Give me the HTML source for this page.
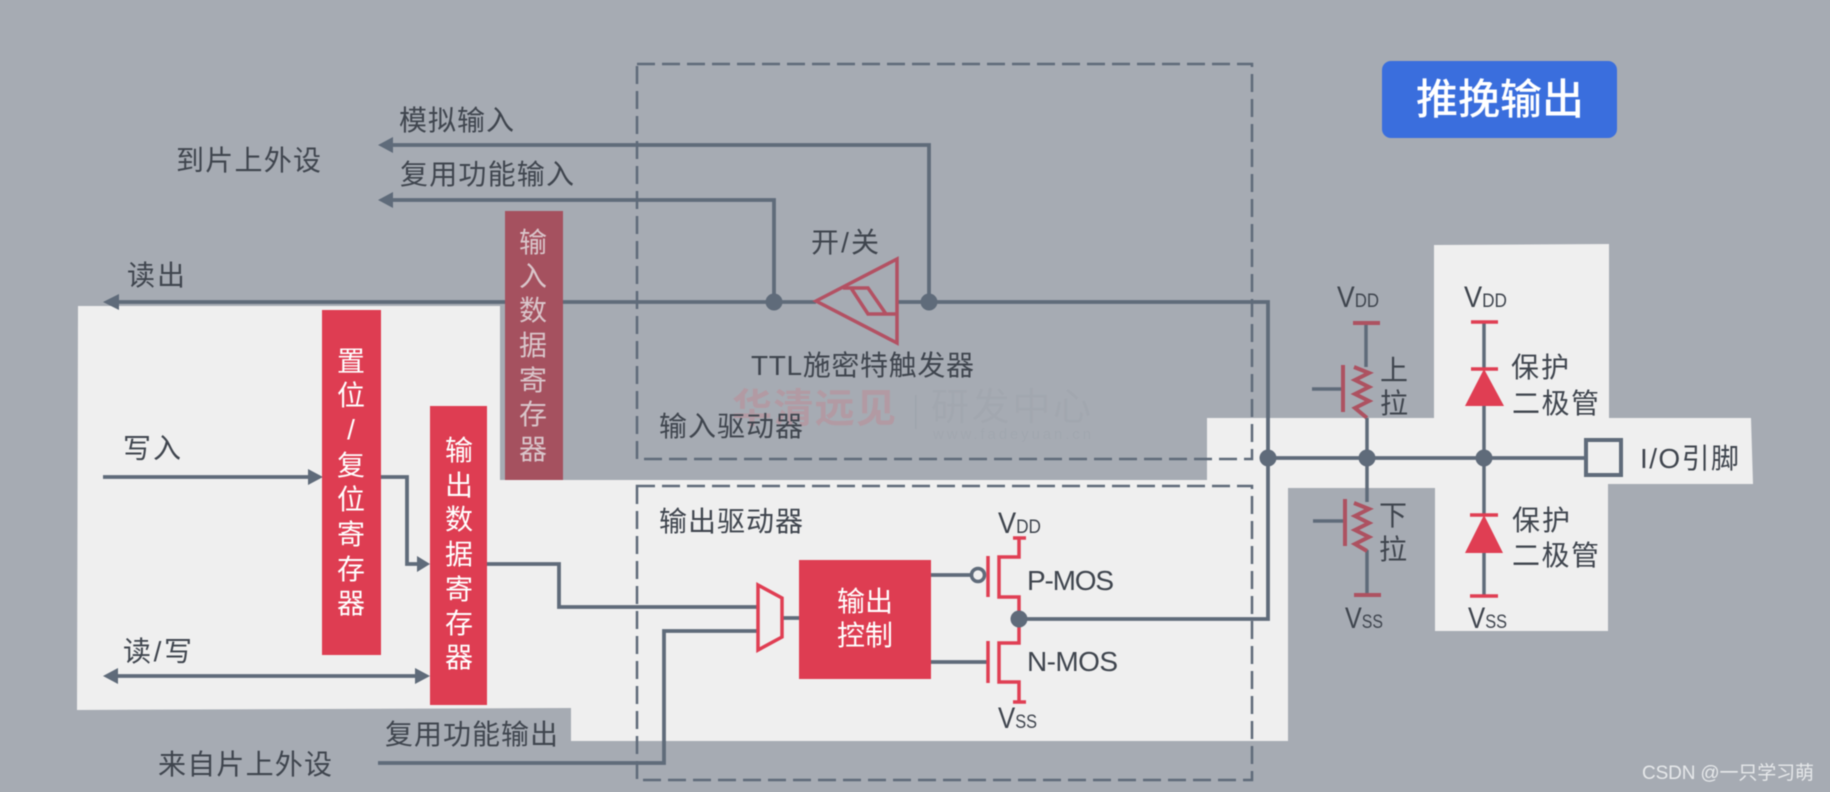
<!DOCTYPE html>
<html><head><meta charset="utf-8"><style>
html,body{margin:0;padding:0;background:#a6abb3;width:1830px;height:792px;overflow:hidden}
svg{display:block;filter:blur(.5px)}
text{font-family:"Liberation Sans","Noto Sans CJK SC",sans-serif;fill:#3f454e;font-size:28px}
.l{fill:none;stroke:#5f6b7a;stroke-width:3.8}
.t{fill:none;stroke:#5f6b7a;stroke-width:3.5}
.a{fill:#5f6b7a}
.d{fill:none;stroke:#5f6b7a;stroke-width:2.5;stroke-dasharray:18 7}
.r{fill:none;stroke:#e03e53;stroke-width:3.5}
.dr{fill:none;stroke:#ad5261;stroke-width:4}
.w{fill:#fff;text-anchor:middle}
.w2{fill:#d9c5ca;text-anchor:middle}
.sub{font-size:19px}
.v{font-size:30px}
</style></head><body>
<svg width="1830" height="792" viewBox="0 0 1830 792" xmlns="http://www.w3.org/2000/svg">
<rect width="1830" height="792" fill="#a6abb3"/>
<!-- light panel -->
<path d="M78 306H500V480H1207V418H1434V245L1609 244V418H1751L1753 484H1608V631H1435V488H1288V741H571V708L77 710Z" fill="#efefef"/>
<!-- watermark -->
<text x="732" y="422" textLength="164" style="font-size:40px;font-weight:700;fill:#b39aa3" opacity=".95">华清远见</text>
<rect x="915" y="395" width="1.5" height="34" fill="#9fa5ad"/>
<text x="931" y="420" textLength="160" style="font-size:38px;fill:#9fa5ad" opacity=".55">研发中心</text>
<text x="933" y="439" textLength="158" style="font-size:15px;fill:#9fa5ad" opacity=".6">www.fadeyuan.cn</text>
<!-- dashed boxes -->
<rect class="d" x="637" y="64" width="615" height="395"/>
<rect class="d" x="637" y="486" width="615" height="294"/>
<!-- connectors -->
<path class="l" d="M388 145H929V302"/>
<path class="l" d="M388 200H774V302"/>
<path class="a" d="M378 145L393 137V153Z"/>
<path class="a" d="M378 200L393 192V208Z"/>
<path class="l" d="M112 302H816"/>
<path class="a" d="M103 302L119 294V310Z"/>
<path class="l" d="M897 302H1268V619H1019"/>
<path class="l" d="M1268 458H1586"/>
<path class="l" d="M103 477H315"/>
<path class="a" d="M323 477L308 469V485Z"/>
<path class="l" d="M381 477H407V564H422"/>
<path class="a" d="M430 564L417 556V572Z"/>
<path class="l" d="M112 676H422"/>
<path class="a" d="M103 676L118 668V684Z"/>
<path class="a" d="M430 676L415 668V684Z"/>
<path class="l" d="M487 564H559V607H758"/>
<path class="l" d="M378 763H664V631H758"/>
<path class="l" d="M782 618H799"/>
<path class="l" d="M931 575H971"/>
<path class="l" d="M931 662H988"/>
<!-- Schmitt trigger -->
<path d="M816 301L897 259V343Z" fill="#a6abb3" stroke="#b35163" stroke-width="3.5"/>
<path d="M843 288H868L886 314M851 288L868 314H897" fill="none" stroke="#b35163" stroke-width="3.5"/>
<circle class="a" cx="774" cy="302" r="8.5"/>
<circle class="a" cx="929" cy="302" r="8.5"/>
<circle class="a" cx="1268" cy="458" r="8.5"/>
<circle class="a" cx="1367" cy="458" r="8.5"/>
<circle class="a" cx="1484" cy="458" r="8.5"/>
<!-- IO pin -->
<rect x="1586" y="440" width="35" height="35" fill="#efefef" stroke="#5f6b7a" stroke-width="4"/>
<!-- pull up -->
<path class="t" d="M1366 323V367"/>
<path class="dr" d="M1353 323H1380"/>
<path class="t" d="M1312 389H1343"/>
<path class="dr" d="M1343 365V412"/>
<path class="dr" d="M1354 367L1369 373L1355 380L1369 387L1355 394L1369 401L1355 408L1367 418"/>
<path class="t" d="M1367 418V502"/>
<path class="t" d="M1367 550V595"/>
<path class="t" d="M1313 521H1345"/>
<path class="dr" d="M1345 499V546"/>
<path class="dr" d="M1354 503L1369 509L1355 516L1369 523L1355 530L1369 537L1355 544L1367 551"/>
<path class="dr" d="M1354 595H1381"/>
<!-- diodes -->
<path class="t" d="M1484 322V369M1484 406V515M1484 553V596"/>
<path class="r" d="M1471 322H1498M1471 369H1498M1470 515H1498M1470 596H1498"/>
<path d="M1484 369L1465 406H1504Z" fill="#e03e53"/>
<path d="M1484 515L1465 553H1503Z" fill="#e03e53"/>
<!-- MOS -->
<path class="r" d="M1013 538H1026M1019 538V557H999V597H1019V643H999V682H1019V702M1013 702H1026M988 556V597M988 641V683"/>
<circle cx="978" cy="575" r="6.5" fill="#efefef" stroke="#5f6b7a" stroke-width="3.5"/>
<circle class="a" cx="1019" cy="619" r="8.5"/>
<!-- mux -->
<path d="M758 585L782 598V637L758 650Z" fill="#efefef" stroke="#e03e53" stroke-width="3.5"/>
<!-- boxes -->
<rect x="505" y="211" width="58" height="269" fill="#a5515f"/>
<rect x="322" y="310" width="59" height="345" fill="#de3d52"/>
<rect x="430" y="406" width="57" height="299" fill="#de3d52"/>
<rect x="799" y="560" width="132" height="119" fill="#de3d52"/>
<rect x="1382" y="61" width="235" height="77" rx="9" fill="#3a6edd"/>
<text class="w" x="1500" y="114" style="font-size:42px;font-weight:500">推挽输出</text>
<!-- registers -->
<text class="w2" x="533" y="252">输</text><text class="w2" x="533" y="286">入</text><text class="w2" x="533" y="320">数</text><text class="w2" x="533" y="355">据</text><text class="w2" x="533" y="390">寄</text><text class="w2" x="533" y="424">存</text><text class="w2" x="533" y="459">器</text>
<text class="w" x="351" y="371">置</text><text class="w" x="351" y="405">位</text><text class="w" x="351" y="439">/</text><text class="w" x="351" y="475">复</text><text class="w" x="351" y="509">位</text><text class="w" x="351" y="544">寄</text><text class="w" x="351" y="579">存</text><text class="w" x="351" y="613">器</text>
<text class="w" x="459" y="460">输</text><text class="w" x="459" y="495">出</text><text class="w" x="459" y="529">数</text><text class="w" x="459" y="564">据</text><text class="w" x="459" y="599">寄</text><text class="w" x="459" y="633">存</text><text class="w" x="459" y="667">器</text>
<text class="w" x="865" y="611">输出</text><text class="w" x="865" y="645">控制</text>
<!-- labels -->
<text x="399" y="130" textLength="115">模拟输入</text>
<text x="400" y="184" textLength="174">复用功能输入</text>
<text x="176" y="170" textLength="145">到片上外设</text>
<text x="127" y="285" textLength="58">读出</text>
<text x="811" y="252" textLength="68">开/关</text>
<text x="751" y="375" textLength="223">TTL施密特触发器</text>
<text x="659" y="436" textLength="144">输入驱动器</text>
<text x="659" y="531" textLength="144">输出驱动器</text>
<text x="123" y="458" textLength="58">写入</text>
<text x="123" y="661" textLength="69">读/写</text>
<text x="385" y="744" textLength="173">复用功能输出</text>
<text x="158" y="774" textLength="174">来自片上外设</text>
<text x="1027" y="590" textLength="87">P-MOS</text>
<text x="1027" y="671" textLength="91">N-MOS</text>
<text x="1640" y="468" textLength="99">I/O引脚</text>
<text x="1380" y="380">上</text>
<text x="1380" y="413">拉</text>
<text x="1379" y="525">下</text>
<text x="1379" y="559">拉</text>
<text x="1511" y="377" textLength="58">保护</text>
<text x="1512" y="413" textLength="87">二极管</text>
<text x="1512" y="530" textLength="58">保护</text>
<text x="1512" y="565" textLength="87">二极管</text>
<text class="v" x="1337" y="307" textLength="42" lengthAdjust="spacingAndGlyphs">V<tspan class="sub">DD</tspan></text>
<text class="v" x="1464" y="307" textLength="43" lengthAdjust="spacingAndGlyphs">V<tspan class="sub">DD</tspan></text>
<text class="v" x="998" y="533" textLength="43" lengthAdjust="spacingAndGlyphs">V<tspan class="sub">DD</tspan></text>
<text class="v" x="998" y="728" textLength="39" lengthAdjust="spacingAndGlyphs">V<tspan class="sub">SS</tspan></text>
<text class="v" x="1345" y="628" textLength="38" lengthAdjust="spacingAndGlyphs">V<tspan class="sub">SS</tspan></text>
<text class="v" x="1468" y="628" textLength="39" lengthAdjust="spacingAndGlyphs">V<tspan class="sub">SS</tspan></text>
<text x="1642" y="779" textLength="172" style="font-size:19px;fill:#e6e8ea">CSDN @一只学习萌</text>
</svg>
</body></html>
